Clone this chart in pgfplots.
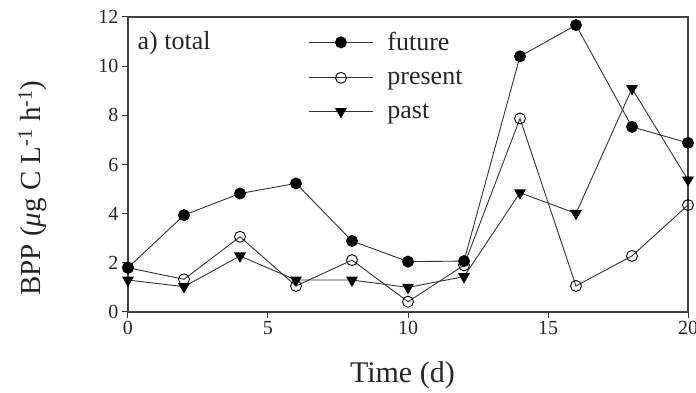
\documentclass[border=0pt]{standalone}
\usepackage{fontspec}
\setmainfont{Liberation Serif}
\usepackage{pgfplots}
\pgfplotsset{compat=1.18}
\begin{document}
\begin{tikzpicture}
\path[use as bounding box] (-128pt,-81pt) rectangle (568pt,312pt);
\begin{axis}[
  at={(0pt,0pt)}, anchor=south west,
  scale only axis, width=560pt, height=295pt,
  xmin=0, xmax=20, ymin=0, ymax=12,
  xtick={0,5,10,15,20}, ytick={0,2,4,6,8,10,12},
  xtick pos=bottom, ytick pos=left, tick align=outside,
  major tick length=6pt,
  tick style={black!80, line width=1pt},
  axis line style={black!75, line width=1.3pt},
  /pgf/number format/assume math mode=true,
  ticklabel style={font=\fontsize{20}{24}\selectfont, black!85},
  xlabel={Time (d)},
  ylabel={BPP ({\itshape μ}g C L\textsuperscript{-1} h\textsuperscript{-1})},
  xlabel style={font=\fontsize{30}{34}\selectfont, black!85, at={(axis description cs:0.49,-0.24)}, anchor=base},
  ylabel style={font=\fontsize{29}{34}\selectfont, black!85, at={(axis description cs:-0.17,0.42)}, anchor=center},
  clip=false,
  every axis plot/.append style={line width=0.9pt, draw=black!80},
  legend image code/.code={\draw[mark repeat=2,mark phase=2] plot coordinates {(0pt,0pt) (32pt,0pt) (64pt,0pt)};},
  legend style={at={(axis cs:6.44,11.42)}, anchor=north west, draw=none, fill=none,
    font=\fontsize{26}{28}\selectfont, row sep=15.5pt, inner sep=0pt,
    nodes={inner sep=1pt, text=black!85},
    /tikz/every odd column/.append style={column sep=13pt}},
  legend cell align=left,
]
\addplot[mark=*, mark size=5.5pt, mark options={fill=black, draw=black}] coordinates {
 (0,1.8) (2,3.94) (4,4.82) (6,5.23) (8,2.89) (10,2.05) (12,2.07) (14,10.4) (16,11.67) (18,7.53) (20,6.88)};
\addlegendentry{future}
\addplot[mark=o, mark size=5.5pt, mark options={fill=white, draw=black, line width=0.9pt}] coordinates {
 (0,1.8) (2,1.33) (4,3.06) (6,1.06) (8,2.11) (10,0.42) (12,1.9) (14,7.87) (16,1.06) (18,2.28) (20,4.35)};
\addlegendentry{present}
\addplot[mark=triangle*, mark size=6pt, mark options={fill=black, draw=black, rotate=180}] coordinates {
 (0,1.3) (2,1.03) (4,2.28) (6,1.3) (8,1.3) (10,1.0) (12,1.44) (14,4.85) (16,4.01) (18,9.09) (20,5.37)};
\addlegendentry{past}
\node[anchor=west, font=\fontsize{26}{28}\selectfont, text=black!85] at (axis cs:0.22,10.95) {a) total};
\end{axis}
\end{tikzpicture}
\end{document}
